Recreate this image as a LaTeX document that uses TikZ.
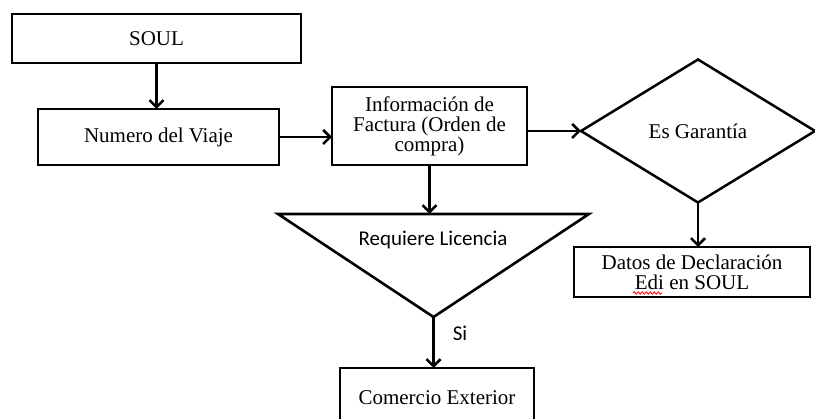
\documentclass[tikz,border=0pt]{standalone}
\usepackage{fontspec}
\setmainfont{Liberation Serif}
\newfontfamily\calibrifont{Carlito}
\usetikzlibrary{arrows.meta,shapes.geometric,decorations.pathmorphing}
\begin{document}
\begin{tikzpicture}[x=1pt,y=-1pt,
  box/.style={draw,line width=2.7pt,inner sep=0pt,outer sep=0pt,align=center,
    font=\fontsize{21}{20}\selectfont},
  sanslabel/.style={inner sep=0pt,font=\calibrifont\fontsize{21}{24}\selectfont},
  arr/.style={-{Straight Barb[length=7pt,width=14pt,line width=2.6pt]},line width=2.6pt},
  shapeline/.style={line width=2.6pt,line join=miter}]
\useasboundingbox (0,0) rectangle (815,419);
\clip (0,0) rectangle (815,419);
\node[box,minimum width=289pt,minimum height=49pt] (soul) at (156.5,38.5) {SOUL};
\node[box,minimum width=241pt,minimum height=56pt] (num) at (158.5,137) {Numero del\hspace{5pt}Viaje};
\node[box,minimum width=195pt,minimum height=78pt] (info) at (429.5,126)
  {Información de\\Factura (Orden de\\compra)};
\node[box,line width=2.5pt,shape=diamond,minimum width=234pt,minimum height=143pt,aspect=1.64] (dia) at (698,131) {Es Garantía};
\node[box,minimum width=236pt,minimum height=50pt] (datos) at (692,272)
  {Datos de Declaración\\Edi en SOUL};
\node[box,minimum width=194pt,minimum height=60pt] (com) at (437,398) {Comercio Exterior};
% triangle
\coordinate (trileft) at (278,214);
\coordinate (triright) at (589,214);
\coordinate (tribot) at (433.5,317);
\coordinate (tritop) at (433.5,214);
\draw[shapeline] (trileft) -- (triright) -- (tribot) -- cycle;
\node[sanslabel] (req) at (433,240) {Requiere Licencia};
\node[sanslabel] (si) at (460,333) {Si};
% red spell-check squiggle under "Edi"
\coordinate (sq1) at (633,293);
\coordinate (sq2) at (662,293);
\draw[red,line width=0.8pt,decorate,decoration={snake,amplitude=1.2pt,segment length=4pt}] (sq1) -- (sq2);
% connectors
\draw[arr] (soul.south) -- (soul.south |- num.north);
\draw[arr] (num.east) -- (num.east -| info.west);
\draw[arr] (dia.west -| info.east) -- (dia.west);
\draw[arr] (info.south) -- (info.south |- tritop);
\draw[arr] (dia.south) -- (dia.south |- datos.north);
\draw[arr] (tribot) -- (tribot |- com.north);
\end{tikzpicture}
\end{document}
